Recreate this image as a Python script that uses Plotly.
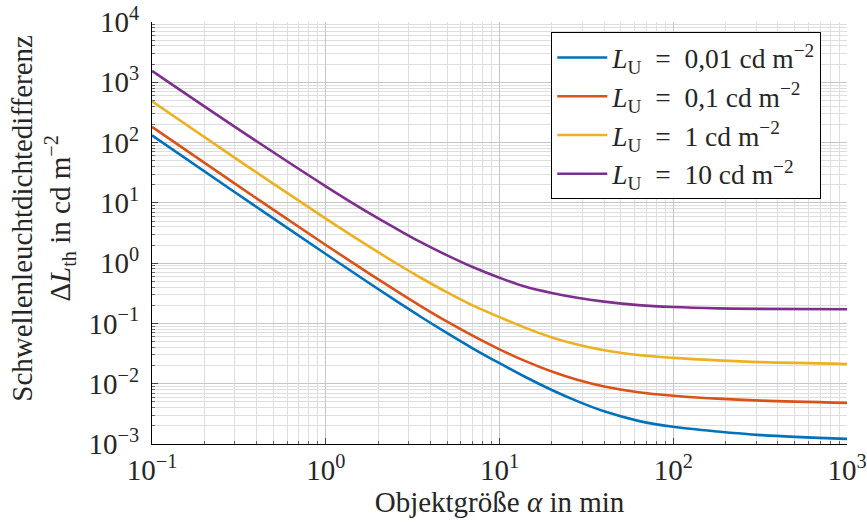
import plotly.graph_objects as go

# Object size alpha in min
alpha = [0.1, 0.3, 1, 1.8, 2.7, 3.5, 5, 7, 10, 14, 20, 28, 40, 63, 100, 180, 320, 1000]

# Threshold luminance difference (cd/m^2) for each adaptation luminance L_U
dl_001 = [132, 15.0, 1.416, 0.455, 0.211, 0.1303, 0.0689, 0.0387, 0.02188, 0.01303,
          0.00787, 0.00514, 0.00348, 0.00242, 0.00193, 0.00161, 0.001406, 0.001216]
dl_01 = [182, 20.8, 2.00, 0.658, 0.312, 0.196, 0.1069, 0.0627, 0.0372, 0.02388,
         0.01589, 0.01159, 0.00897, 0.00721, 0.00631, 0.00565, 0.00525, 0.00481]
dl_1 = [485, 55.7, 5.46, 1.837, 0.897, 0.578, 0.3266, 0.199, 0.1274, 0.0851,
        0.0586, 0.0447, 0.0359, 0.0299, 0.0268, 0.02438, 0.0228, 0.02128]
dl_10 = [1545, 182, 18.79, 6.61, 3.39, 2.25, 1.343, 0.861, 0.573, 0.41,
         0.320, 0.266, 0.230, 0.2015, 0.1871, 0.1780, 0.1741, 0.1718]

EQ = "\u2002=\u2002"
series_names = [
    "<i>L</i><sub>U</sub>" + EQ + "0,01 cd m<sup>−2</sup>",
    "<i>L</i><sub>U</sub>" + EQ + "0,1 cd m<sup>−2</sup>",
    "<i>L</i><sub>U</sub>" + EQ + "1 cd m<sup>−2</sup>",
    "<i>L</i><sub>U</sub>" + EQ + "10 cd m<sup>−2</sup>",
]
series_colors = ["#0072BD", "#D95319", "#EDB120", "#7E2F8E"]

x_tickvals = [0.1, 1, 10, 100, 1000]
x_ticktext = ["10<sup>−1</sup>", "10<sup>0</sup>", "10<sup>1</sup>", "10<sup>2</sup>", "10<sup>3</sup>"]
y_tickvals = [1e-3, 1e-2, 1e-1, 1, 10, 100, 1000, 10000]
y_ticktext = ["10<sup>−3</sup>", "10<sup>−2</sup>", "10<sup>−1</sup>", "10<sup>0</sup>",
              "10<sup>1</sup>", "10<sup>2</sup>", "10<sup>3</sup>", "10<sup>4</sup>"]

x_title = "Objektgröße <i>α</i> in min"
y_title = "Schwellenleuchtdichtedifferenz<br>Δ<i>L</i><sub>th</sub> in cd m<sup>−2</sup>"

FONT = "Liberation Serif"
TXT = "#262626"
FS = 29

fig = go.Figure()
for i, (vals, name, col) in enumerate(zip([dl_001, dl_01, dl_1, dl_10], series_names, series_colors)):
    fig.add_trace(go.Scatter(
        x=alpha, y=vals, mode="lines", name=name,
        line=dict(color=col, width=2.6, shape="spline", smoothing=1.0),
        legendgroup=f"g{i}",
    ))

axis_common = dict(
    type="log",
    automargin=False,
    showline=True, linecolor="black", linewidth=1.2,
    ticks="inside", ticklen=6, tickcolor="#444444", tickwidth=1,
    showgrid=True, gridcolor="#c6c6c6", gridwidth=1,
    zeroline=False, mirror=False,
    tickfont=dict(family=FONT, size=FS, color=TXT),
    minor=dict(dtick="D1", ticks="inside", ticklen=3, tickcolor="#666666",
               showgrid=True, gridcolor="#dedede", gridwidth=1),
)

fig.update_xaxes(
    **axis_common,
    range=[-1, 3], tickmode="array", tickvals=x_tickvals, ticktext=x_ticktext,
    ticklabelstandoff=0,
    title=dict(text=x_title, font=dict(family=FONT, size=FS, color=TXT), standoff=4),
)
fig.update_yaxes(
    **axis_common,
    range=[-3, 4], tickmode="array", tickvals=y_tickvals, ticktext=y_ticktext,
    ticklabelstandoff=6,
)

fig.add_annotation(
    text=y_title, textangle=-90,
    xref="paper", yref="paper", x=-0.157, y=0.536,
    xanchor="center", yanchor="middle", showarrow=False,
    font=dict(family=FONT, size=FS, color=TXT),
)

fig.update_layout(
    width=867, height=522,
    margin=dict(l=152, r=20, t=22, b=78, autoexpand=False),
    paper_bgcolor="white", plot_bgcolor="white",
    font=dict(family=FONT, size=FS, color=TXT),
    showlegend=True,
    legend=dict(
        x=0.963, y=0.976, xanchor="right", yanchor="top",
        bgcolor="white", bordercolor="black", borderwidth=1,
        font=dict(family=FONT, size=27.5, color=TXT),
        tracegroupgap=0, traceorder="grouped",
        itemwidth=50,
    ),
)

fig.write_html("out.html")
